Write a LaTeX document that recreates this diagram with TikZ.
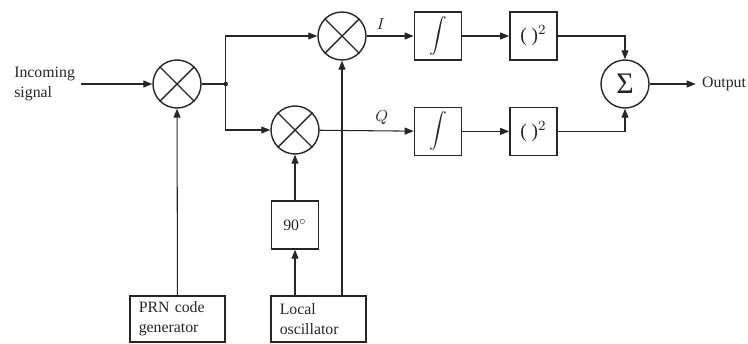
\documentclass[tikz,border=0pt]{standalone}
\usepackage{fontspec}
\setmainfont{Liberation Serif}
\usetikzlibrary{arrows.meta,positioning}

\begin{document}
\begin{tikzpicture}[>={Triangle[length=1.8mm,width=1.4mm]}, semithick, color=black!85,
  font=\fontsize{9}{11.5}\selectfont,
  mix/.style={draw, circle, thick, minimum size=0.96cm, inner sep=0pt},
  blk/.style={draw, thick, minimum width=0.94cm, minimum height=0.96cm, inner sep=0pt},
  src/.style={draw, thick, minimum width=1.9cm, minimum height=0.92cm, align=left, text width=1.55cm}]
\useasboundingbox (0,0) rectangle (14.96,6.86);
% mixers
\node[mix] (m0) at (3.54,5.18) {};
\node[mix] (mi) at (6.84,6.14) {};
\node[mix] (mq) at (5.90,4.26) {};
\foreach \n in {m0,mi,mq}
  \draw[thick] (\n.45) -- (\n.225) (\n.135) -- (\n.315);
% I and Q branches
\node[blk, right=0.94cm of mi] (ii) {\fontsize{13}{13}\selectfont$\displaystyle\int$};
\node[blk, right=0.94cm of ii] (si) {\fontsize{11}{11}\selectfont( )$^2$};
\node[blk, below=0.92cm of ii] (iq) {\fontsize{13}{13}\selectfont$\displaystyle\int$};
\node[blk, below=0.92cm of si] (sq) {\fontsize{11}{11}\selectfont( )$^2$};
\node[mix] (sum) at (12.50,5.18) {\fontsize{17}{17}\selectfont Σ};
% sources
\node[src] (prn) at (3.55,0.48) {PRN code\\generator};
\node[src] (lo) at (6.37,0.48) {Local\\oscillator};
\node[blk] (ph) at (5.90,2.36) {90$^\circ$};
% in and out
\node[left=1.42cm of m0, align=left] (in) {Incoming\\signal};
\node[right=0.92cm of sum] (out) {Output};
\coordinate[right=0.48cm of m0] (j);
\draw[->] (in) -- (m0);
\draw (m0) -- (j);
\fill (j) circle (1.3pt);
\draw[->] (j) |- (mi);
\draw[->] (j) |- (mq);
\draw[->] (mi) -- node[pos=0.3, above] {$I$} (ii);
\draw[->] (mq) -- node[pos=0.66, above] {$Q$} (iq);
\draw[->] (ii) -- (si); \draw[->] (iq) -- (sq);
\draw[->] (si) -| (sum); \draw[->] (sq) -| (sum);
\draw[->] (sum) -- (out);
\draw[->] (prn) -- (m0);
\draw[->] (mi |- lo.north) -- (mi);
\draw[->] (ph |- lo.north) -- (ph);
\draw[->] (ph) -- (mq);
\end{tikzpicture}
\end{document}
